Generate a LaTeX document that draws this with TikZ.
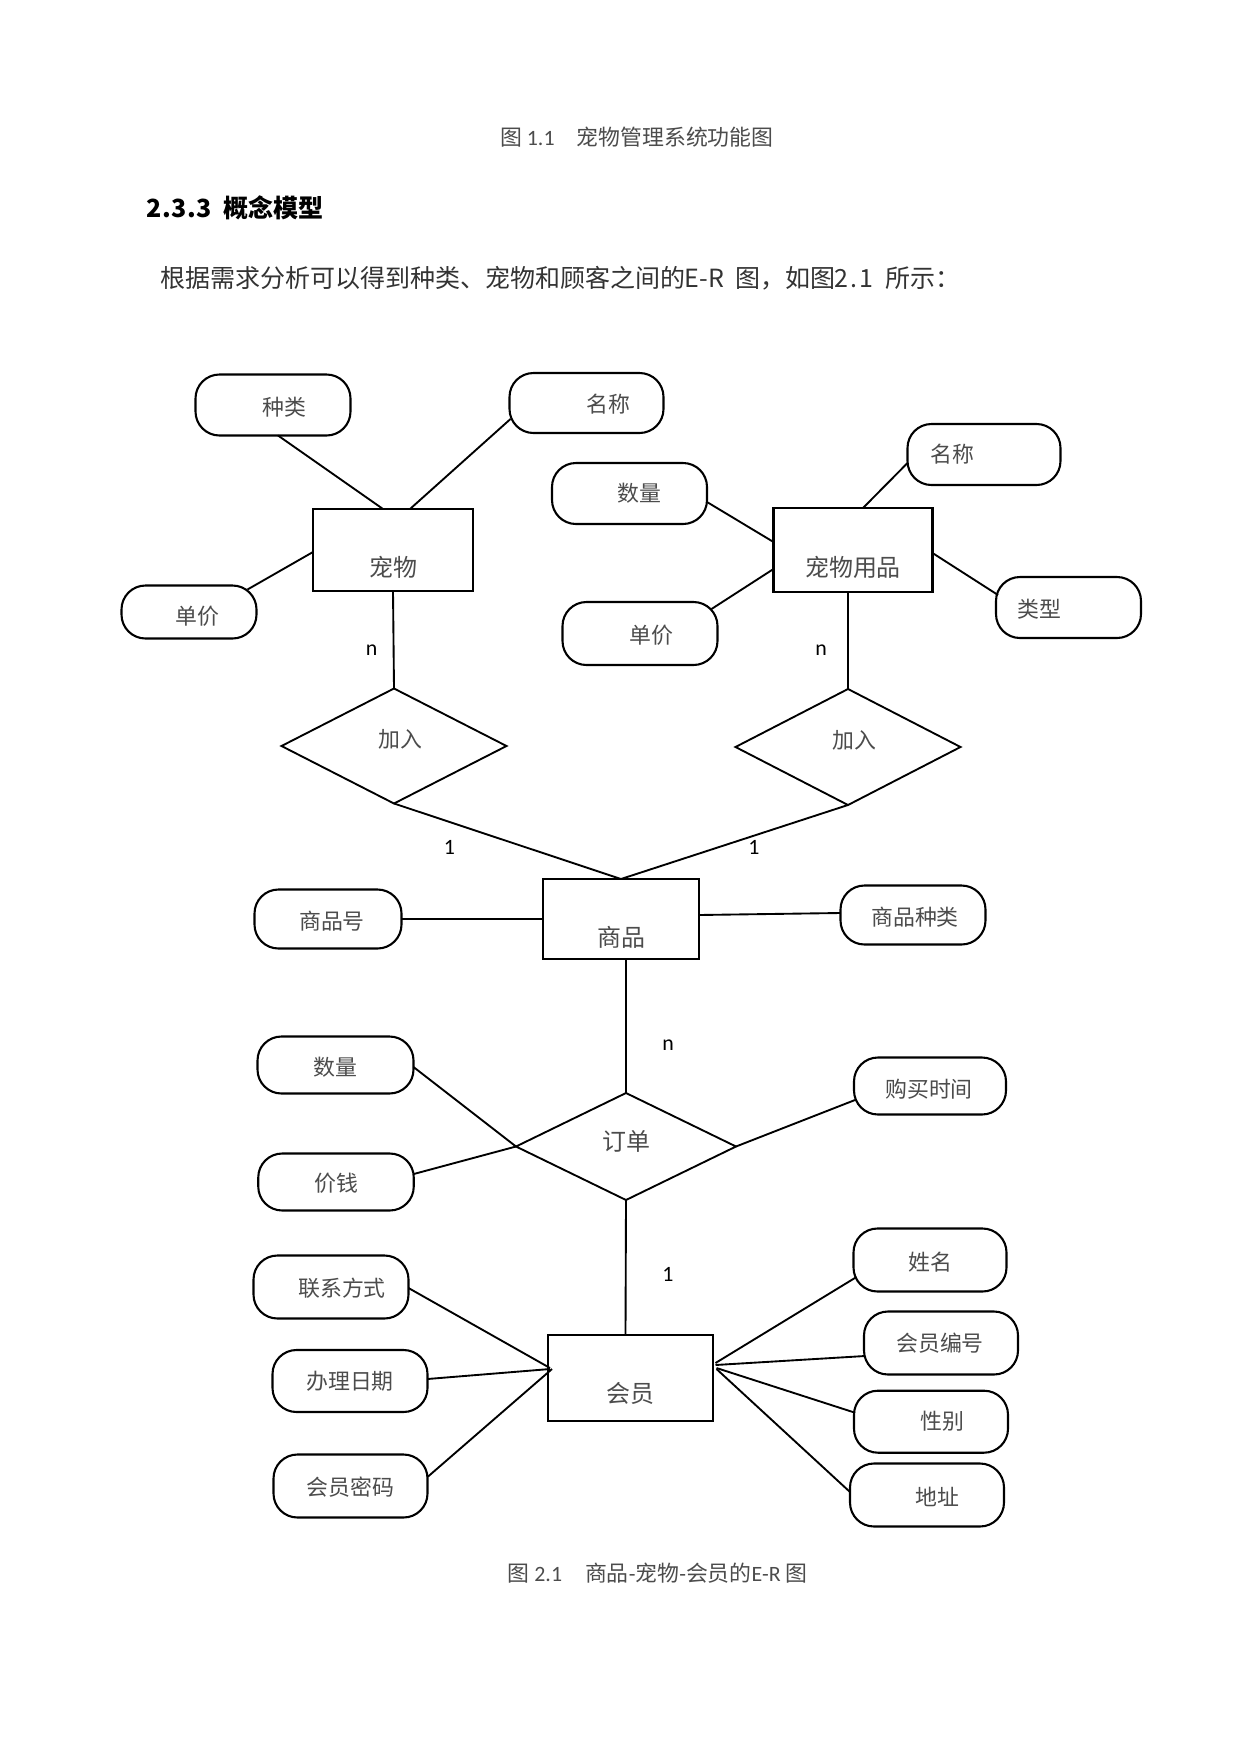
\documentclass[tikz,border=0pt]{standalone}
\usepackage{fontspec}
\newfontfamily\cjk{Noto Sans CJK SC}
\newfontfamily\lat{Carlito}
\usetikzlibrary{shapes.geometric,calc}
\newlength\pu \setlength\pu{0.4797pt}
\newcommand\hw[1]{\makebox[0.5em]{#1}}
\begin{document}
\begin{tikzpicture}[x=0.4797pt,y=-0.4797pt,
  every node/.style={inner sep=0pt, outer sep=0pt},
  sz/.style 2 args={minimum width=#1*0.4797pt, minimum height=#2*0.4797pt},
  attr/.style={draw, line width=1pt, rectangle, rounded corners=11.5pt},
  ent/.style={draw, line width=1.2pt, rectangle},
  rel/.style={draw, line width=0.9pt, diamond},
  lab/.style={font=\cjk\fontsize{10.5}{12}\selectfont, text=black!70},
  elab/.style={font=\cjk\fontsize{11.5}{13}\selectfont, text=black!70},
  tx/.style n args={3}{label={[lab,xshift=#1*0.4797pt,yshift=#2*0.4797pt]center:#3}},
  etx/.style n args={3}{label={[elab,xshift=#1*0.4797pt,yshift=#2*0.4797pt]center:#3}},
  card/.style={font=\lat\fontsize{10.5}{12}\selectfont, text=black},
  conn/.style={line width=0.9pt}
]
\useasboundingbox (0,0) rectangle (1241,1754);
\fill[white] (0,0) rectangle (1241,1754);

% texts
\node[anchor=west, font=\fontsize{10.5}{12}\selectfont, text=black!70] (cap1) at (500,136.7)
  {{\cjk 图}\hspace{5\pu}{\lat 1.1}\hspace{22\pu}{\cjk 宠物管理系统功能图}};
\node[anchor=west, font=\cjk\bfseries\fontsize{12}{14}\selectfont] (h233) at (148,208)
  {\hw{2}\hw{.}\hw{3}\hw{.}\hw{3}\hw{}概念模型};
\node[anchor=west, font=\cjk\fontsize{12}{14}\selectfont, text=black!80] (body) at (160,278.6)
  {根据需求分析可以得到种类、宠物和顾客之间的\hw{E}\hw{-}\hw{R}\hw{}图，如图\hw{2}\hw{.}\hw{1}\hw{}所示：};
\node[anchor=west, font=\fontsize{10.5}{12}\selectfont, text=black!70] (cap2) at (507.5,1573)
  {{\cjk 图}\hspace{5\pu}{\lat 2.1}\hspace{23\pu}{\cjk 商品}{\lat -}{\cjk 宠物}{\lat -}{\cjk 会员的}{\lat E-R}\hspace{5\pu}{\cjk 图}};

% top-left
\node[attr, sz={155}{61}, tx={11}{-2}{种类}] (zl) at (273,405) {};
\node[attr, sz={154}{60}, tx={22}{-1}{名称}] (mc1) at (586.5,403) {};
\node[ent, sz={160}{82}, etx={0}{-17}{宠物}] (cw) at (393,550) {};
\node[attr, sz={135}{53}, tx={8}{-4}{单价}] (dj1) at (189,612) {};
% top-right
\node[attr, sz={155}{61}, tx={10}{0}{数量}] (sl) at (629.5,493.5) {};
\node[attr, sz={153}{61}, tx={-32}{0}{名称}] (mc2) at (984,454.5) {};
\node[ent, sz={159}{84}, etx={0}{-17}{宠物用品}] (yp) at (853,550) {};
\node[attr, sz={145}{61}, tx={-29}{-1.5}{类型}] (lx) at (1068.5,607.5) {};
\node[attr, sz={155}{63}, tx={11}{-1.5}{单价}] (dj2) at (640,633.5) {};
% relations
\node[rel, sz={225}{115}, tx={6}{7}{加入}] (jr1) at (394,746) {};
\node[rel, sz={225}{116}, tx={6}{7}{加入}] (jr2) at (848,747) {};
% goods
\node[ent, sz={156}{80}, etx={0}{-18}{商品}] (sp) at (621,919) {};
\node[attr, sz={147}{59}, tx={4}{-2}{商品号}] (sph) at (328,919) {};
\node[attr, sz={145}{59}, tx={2}{-2}{商品种类}] (spzl) at (913,915) {};
% order
\node[rel, sz={220}{107}, etx={0}{5.5}{订单}] (dd) at (626,1146.5) {};
\node[attr, sz={156}{57}, tx={0}{-2}{数量}] (sl2) at (335.5,1065) {};
\node[attr, sz={155.5}{57}, tx={0}{-1}{价钱}] (qj) at (336,1182) {};
\node[attr, sz={152}{57}, tx={-1}{-3}{购买时间}] (gmsj) at (930,1086) {};
% member
\node[ent, sz={165}{86}, etx={0}{-15}{会员}] (hy) at (630.5,1378) {};
\node[attr, sz={155}{63}, tx={11}{-1}{联系方式}] (lxfs) at (331,1287) {};
\node[attr, sz={155}{62}, tx={0}{0}{办理日期}] (blrq) at (350,1381) {};
\node[attr, sz={154}{63}, tx={0}{-1}{会员密码}] (hymm) at (350.5,1486) {};
\node[attr, sz={153}{63}, tx={0}{-2}{姓名}] (xm) at (930,1260) {};
\node[attr, sz={154}{63}, tx={-1}{0}{会员编号}] (hybh) at (941,1343) {};
\node[attr, sz={154}{62}, tx={11}{0}{性别}] (xb) at (931,1421.7) {};
\node[attr, sz={154}{63}, tx={10}{-2}{地址}] (dz) at (927,1495) {};

% cardinalities
\node[card] (c1) at (371.7,650) {n};
\node[card] (c2) at (821,650) {n};
\node[card] (c3) at (449.5,847) {1};
\node[card] (c4) at (754,847) {1};
\node[card] (c5) at (668,1045) {n};
\node[card] (c6) at (668,1274) {1};

% connectors
\draw[conn] ($(zl.south)+(5,0)$) -- ($(cw.north)+(-10,0)$);
\draw[conn] ($(mc1.west)+(1,16)$) -- ($(cw.north)+(17,0)$);
\draw[conn] ($(dj1.north east)+(-9,4)$) -- ($(cw.west)+(0,2)$);
\draw[conn] (cw.south) -- (jr1.north);
\draw[conn] ($(mc2.west)+(0,8.5)$) -- ($(yp.north)+(10,0)$);
\draw[conn] ($(sl.east)+(0,8.5)$) -- ($(yp.west)+(0,-8)$);
\draw[conn] ($(dj2.north east)+(-6,7)$) -- ($(yp.west)+(0,19)$);
\draw[conn] ($(lx.west)+(2,-12.5)$) -- ($(yp.east)+(0,3)$);
\draw[conn] ($(yp.south)+(-5,0)$) -- (jr2.north);
\draw[conn] (jr1.south) -- (sp.north);
\draw[conn] (jr2.south) -- (sp.north);
\draw[conn] (sph.east) -- (sp.west);
\draw[conn] ($(sp.east)+(0,-4)$) -- ($(spzl.west)+(0,-2)$);
\draw[conn] ($(sp.south)+(5,0)$) -- (dd.north);
\draw[conn] ($(sl2.east)+(0,2)$) -- (dd.west);
\draw[conn] ($(qj.east)+(0,-8)$) -- (dd.west);
\draw[conn] ($(gmsj.west)+(1,14)$) -- (dd.east);
\draw[conn] (dd.south) -- ($(hy.north)+(-5,0)$);
\draw[conn] ($(lxfs.east)+(0,1)$) -- ($(hy.west)+(2,-10)$);
\draw[conn] ($(blrq.east)+(0,-2)$) -- ($(hy.west)+(2,-9)$);
\draw[conn] ($(hymm.east)+(0,-9)$) -- ($(hy.west)+(4,-9)$);
\draw[conn] ($(xm.west)+(3,17)$) -- ($(hy.east)+(2.5,-15)$);
\draw[conn] ($(hybh.west)+(1,13)$) -- ($(hy.east)+(2.5,-13)$);
\draw[conn] ($(xb.west)+(1,-9)$) -- ($(hy.east)+(3.5,-10)$);
\draw[conn] ($(dz.west)+(0,-3)$) -- ($(hy.east)+(3.5,-9)$);
\end{tikzpicture}
\end{document}
